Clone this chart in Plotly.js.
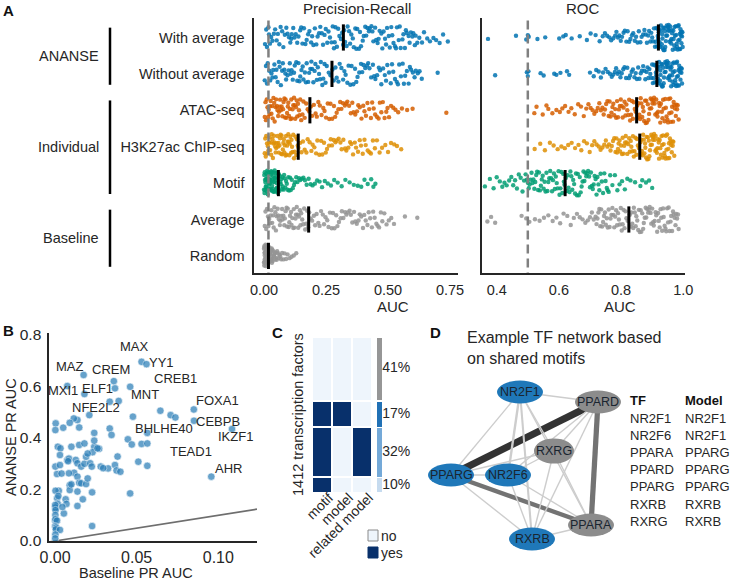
<!DOCTYPE html>
<html><head><meta charset="utf-8">
<script src="https://cdn.plot.ly/plotly-3.0.1.min.js"></script>
<style>html,body{margin:0;padding:0;background:#fff}#chart{width:732px;height:580px}</style>
</head><body><div id="chart"></div>
<script>
// ---------------- DATA ----------------
const categories = ['With average','Without average','ATAC-seq','H3K27ac ChIP-seq','Motif','Average','Random'];
const groups = ['ANANSE','ANANSE','Individual','Individual','Individual','Baseline','Baseline'];
const prMedians  = [0.32, 0.274, 0.185, 0.138, 0.058, 0.18, 0.018];
const rocMedians = [0.92, 0.915, 0.85, 0.86, 0.62, 0.825, null];
const prChance = 0.018, rocChance = 0.5;

// AUC values per TF, in thousandths
const prWithAvg = [4,9,12,18,20,24,29,34,40,45,51,56,62,67,73,78,84,90,95,101,106,110,112,118,123,128,134,139,146,150,155,161,167,172,178,183,190,194,199,205,211,216,222,227,233,238,244,249,255,260,266,272,277,282,285,288,294,299,304,310,315,319,
323,327,333,337,343,347,352,358,362,368,372,376,383,387,391,398,402,408,412,417,423,426,433,437,441,448,452,458,462,466,473,477,482,488,492,496,503,507,513,517,522,528,532,536,543,547,551,558,562,568,572,576,583,587,592,598,602,608,611,618,626,637,645,658,669,683,694,708,722,741];
const prWithoutAvg = [3,8,12,15,21,25,30,34,37,42,47,50,55,60,63,68,73,76,82,86,89,95,99,104,108,111,116,121,124,130,134,139,143,146,151,156,159,165,169,172,178,182,187,191,194,199,204,207,213,217,222,226,229,235,239,244,248,253,261,268,
276,281,288,293,300,305,312,319,324,329,336,341,348,353,360,367,372,377,384,391,396,401,408,415,420,425,432,439,444,449,456,463,468,473,480,487,492,497,504,511,516,521,528,535,540,545,552,559,564,569,576,583,588,593,600,607,612,620,627,636,700];
const prATAC = [3,6,8,11,14,17,19,22,24,27,30,33,35,38,41,43,46,49,52,54,57,60,63,65,68,71,74,77,79,82,85,87,90,93,96,98,101,104,107,110,112,115,118,121,124,126,129,132,134,137,141,143,146,150,155,159,164,170,176,182,
189,194,201,208,213,219,225,232,239,244,250,257,263,268,275,282,287,293,300,307,312,318,326,331,336,343,350,356,361,368,375,380,386,393,400,405,411,417,424,431,436,442,448,455,462,467,473,479,486,493,498,504,512,521,530,541,556,577,599,735];
const prH3K = [3,5,7,9,12,14,16,18,20,23,25,27,29,31,34,36,38,40,42,45,47,49,51,54,56,58,60,62,65,67,69,71,73,76,78,80,82,84,87,89,91,93,95,98,100,102,104,106,109,111,113,115,118,121,124,127,130,133,136,139,
145,151,157,164,171,176,184,191,196,203,210,215,223,230,235,242,249,254,262,269,274,281,288,293,301,308,313,320,327,332,340,347,352,359,366,371,379,386,391,398,405,410,418,425,431,439,447,455,466,476,489,500,512,525,536,553];
const prMotif = [0,1,2,3,4,5,6,7,8,9,10,11,12,13,14,15,16,17,18,19,20,21,22,23,24,25,26,27,28,29,30,31,32,33,34,35,36,37,38,39,40,41,42,43,44,45,46,47,48,50,51,52,54,55,57,
60,62,64,66,68,70,72,74,76,79,81,83,86,89,92,95,98,101,105,108,112,116,121,125,130,135,141,146,152,159,165,172,180,188,196,205,214,224,234,245,257,270,283,297,313,328,345,362,378,392,405,418,432,441,449];
const prAverage = [3,6,9,12,16,18,21,25,27,30,33,37,39,42,46,48,51,55,57,60,64,66,69,73,75,78,82,84,87,91,93,96,100,102,105,109,111,114,118,120,123,127,129,132,136,138,141,145,147,150,154,158,162,166,170,174,178,182,
188,194,201,206,212,219,224,230,237,242,248,255,260,266,273,278,284,291,296,302,309,314,320,327,332,338,345,350,356,363,368,374,381,386,392,399,404,410,417,422,428,435,440,446,453,458,464,471,477,485,494,503,513,524,568,618];
const prRandom = [0,0,1,1,2,2,3,3,4,4,5,5,6,6,7,7,8,8,9,9,10,10,11,11,12,12,13,13,14,14,15,15,16,16,17,17,17,18,18,18,
19,20,21,22,23,24,25,26,27,28,29,30,31,32,33,34,35,37,39,41,43,45,47,49,51,53,56,59,62,65,69,73,78,83,89,95,103,111,120,130];

const rocWithAvg = [372,462,495,500,503,531,556,601,614,622,641,667,690,702,718,731,741,748,755,762,768,775,
781,785,790,794,799,803,808,812,817,821,826,830,835,839,844,848,853,857,862,866,871,875,879,883,887,890,894,897,900,903,906,909,911,913,915,917,918,919,
921,923,924,926,928,929,931,932,934,936,937,939,940,942,944,945,947,948,950,952,953,955,956,958,960,961,963,964,966,968,969,971,972,974,976,977,979,980,982,984,985,987,988,990,992,993,994,995,996,997,922,933,941,951,962,973,983,989,991,998];
const rocWithoutAvg = [395,497,500,502,541,551,585,592,605,626,633,700,712,720,728,735,742,750,757,764,
770,775,780,784,789,793,798,802,807,811,816,820,825,829,834,838,843,847,851,855,859,863,867,871,875,878,882,885,888,891,894,897,900,902,904,906,908,910,912,913,
916,918,919,921,922,924,926,927,929,930,932,934,935,937,938,940,942,943,945,946,948,950,951,953,954,956,958,959,961,962,964,966,967,969,970,972,974,975,977,978,980,982,983,985,986,988,990,991,993,994,996,917,925,933,947,957,965,979,987,995];
const rocATAC = [521,528,548,560,566,579,592,603,611,620,631,640,651,662,671,680,688,695,702,708,714,720,725,730,735,740,744,748,752,756,
760,763,766,769,772,775,778,781,784,787,790,793,796,799,802,805,808,811,814,817,820,823,826,829,832,835,838,841,844,847,
852,854,856,859,861,863,865,868,870,872,874,877,879,881,883,886,888,890,892,895,897,899,901,904,906,908,910,913,915,917,919,922,924,926,928,931,933,935,937,940,942,944,946,949,951,953,955,958,960,962,964,967,969,971,973,976,978,980,982,985];
const rocH3K = [522,540,555,571,583,596,608,619,630,641,652,663,672,681,690,699,707,714,721,728,734,740,746,751,756,761,766,770,774,778,
782,785,787,790,792,795,797,800,803,805,808,810,813,815,818,820,823,826,828,831,833,836,838,841,843,846,849,851,854,857,
862,864,865,867,869,871,873,875,877,878,880,882,884,886,888,889,891,893,895,897,899,900,902,904,906,908,910,911,913,915,917,919,921,922,924,926,928,930,932,933,935,937,939,941,943,944,946,948,950,952,954,955,957,959,961,963,965,966,968,971];
const rocMotif = [362,378,390,400,410,418,425,432,440,447,453,459,465,471,477,483,488,493,497,500,
503,506,509,512,515,518,521,524,527,530,533,536,539,542,545,548,551,554,557,560,563,566,569,572,575,578,581,584,587,590,593,596,599,602,605,608,611,614,616,618,
622,625,628,631,634,637,640,643,646,649,652,655,658,661,664,667,670,673,676,679,682,685,688,691,694,697,700,703,706,709,712,715,718,721,724,727,730,734,738,742,746,750,754,757,760,
765,772,780,788,795,803,812,820,830,845,862,868,880,890,900];
const rocAverage = [370,382,395,480,495,505,523,538,552,566,580,592,604,615,627,638,648,658,667,676,685,693,700,706,712,
718,721,724,727,730,733,736,739,742,745,748,751,754,757,760,763,766,769,772,775,778,781,784,787,790,793,796,799,802,805,808,811,814,817,821,
828,831,833,836,839,841,844,847,849,852,855,857,860,863,865,868,871,873,876,879,881,884,887,889,892,895,897,900,903,905,908,911,913,916,919,921,924,927,929,932,935,937,940,943,945,948,951,953,956,959,961,964,967,969,972,975,977,980,983,985];
const rocRandom = [];

// Panel B: baseline vs ANANSE PR AUC per TF
const baselinePR = [0.053,0.056,0.0175,0.036,0.0367,0.018,0.0075,0.046,0.0335,0.039,
0.021,0.0137,0.0115,0.009,0.0148,0.0004,0.0002,0.085,0.0645,0.0708,
0.0737,0.0851,0.1084,0.0477,0.0565,0.0957,0.0335,0.0346,0.024,0.0446,
0.047,0.053,0.0565,0.0017,0.0033,0.010,0.0148,0.018,0.024,0.024,
0.0002,0.003,0.003,0.0075,0.0085,0.0127,0.0137,0.0117,0.0085,0.0012,
0.004,0.016,0.018,0.019,0.0215,0.0225,0.028,0.0325,0.0367,0.0377,
0.0383,0.040,0.051,0.0565,0.0137,0.0148,0.016,0.019,0.020,0.009,
0.0137,0.009,0.0023,0.0003,0.0227,0.017,0.0137,0.0065,0.007,0.0013,
0.0017,0.0004,0.0002,0.0001,0.0003,0.0054,0.0002,0.0001,0.0003,0.0012,
0.0001,0.0006,0.0005,0.003,0.0002,0.0001,0.0227,0.046,0.023,0.027,
0.020,0.008,0.0045,0.002,0.010,0.005,0.026,0.0295];
const anansePR = [0.696,0.687,0.645,0.621,0.593,0.571,0.602,0.599,0.541,0.544,
0.489,0.470,0.476,0.459,0.441,0.457,0.431,0.511,0.506,0.489,
0.480,0.467,0.435,0.483,0.420,0.250,0.437,0.412,0.420,0.395,
0.375,0.377,0.379,0.366,0.360,0.366,0.373,0.379,0.366,0.390,
0.289,0.334,0.295,0.315,0.320,0.315,0.302,0.265,0.263,0.260,
0.262,0.289,0.300,0.327,0.302,0.289,0.289,0.282,0.295,0.274,
0.328,0.269,0.308,0.292,0.250,0.226,0.224,0.221,0.243,0.217,
0.192,0.198,0.195,0.195,0.189,0.162,0.136,0.162,0.144,0.166,
0.144,0.128,0.130,0.140,0.120,0.107,0.101,0.080,0.085,0.079,
0.057,0.052,0.045,0.043,0.025,0.010,0.058,0.185,0.345,0.358,
0.340,0.310,0.132,0.175,0.220,0.440,0.360,0.283];
const labelNames = ['MAX','YY1','MAZ','CREM','CREB1','MXI1','ELF1','MNT','FOXA1','NFE2L2','CEBPB','BHLHE40','IKZF1','TEAD1','AHR'];
const labelX = [0.0484,0.0651,0.009,0.0341,0.0739,0.0049,0.0263,0.0549,0.0994,0.0249,0.1,0.067,0.1104,0.0835,0.1064];
const labelY = [0.755,0.694,0.677,0.667,0.632,0.584,0.593,0.571,0.545,0.518,0.465,0.436,0.405,0.347,0.282];

// Panel C
const nTF = 1412;
const cFeatures = ['motif','model','related model'];
const cPercents = [41,17,32,10];               // top to bottom
const cPatterns = [[0,0,0],[1,1,0],[1,0,1],[1,0,0]];

// Panel D
const nodeNames = ['NR2F1','PPARD','RXRG','PPARG','NR2F6','PPARA','RXRB'];
const nodeGroup = ['model','other','other','model','model','other','model'];
const nodeLayoutX = [4.75,8.65,6.45,1.3,4.15,8.3,5.35];
const nodeLayoutY = [8.4,7.9,5.45,4.25,4.25,1.75,1.05];
const edgeFrom = ['PPARG','PPARD','PPARG','NR2F1','NR2F1','NR2F1','NR2F1','NR2F1','NR2F1','PPARD','PPARD','PPARD','RXRG','RXRG','RXRG','RXRG','PPARG','PPARG','NR2F6','NR2F6','RXRB'];
const edgeTo   = ['PPARD','PPARA','PPARA','NR2F6','RXRB','PPARD','PPARG','RXRG','PPARA','RXRG','RXRB','NR2F6','PPARG','NR2F6','RXRB','PPARA','RXRB','NR2F6','RXRB','PPARA','PPARA'];
const edgeWeight = [1.0,0.75,0.62,0.34,0.3,0.15,0.15,0.15,0.15,0.15,0.15,0.15,0.15,0.15,0.15,0.15,0.15,0.15,0.2,0.15,0.15];
const tableTF    = ['NR2F1','NR2F6','PPARA','PPARD','PPARG','RXRB','RXRG'];
const tableModel = ['NR2F1','NR2F1','PPARG','PPARG','PPARG','RXRB','RXRB'];

// ---------------- STYLE / LAYOUT ----------------
const FONT = 'Liberation Sans, Arial, Helvetica, sans-serif';
const TXT = '#262626';
const catColors = ['#0173b2','#0173b2','#d55e00','#de8f05','#029e73','#949494','#949494'];
const W = 732, H = 580;
const px = x => x / W, py = y => 1 - y / H;

const prSeries  = [prWithAvg, prWithoutAvg, prATAC, prH3K, prMotif, prAverage, prRandom];
const rocSeries = [rocWithAvg, rocWithoutAvg, rocATAC, rocH3K, rocMotif, rocAverage, rocRandom];
const rowRange = [6.47, -0.535];

const traces = [];
traces.push({type:'scatter', mode:'lines', x:[prChance,prChance], y:[rowRange[0]+1, rowRange[1]-1], xaxis:'x', yaxis:'y',
  line:{color:'#808080', width:2.5, dash:'9px,5px'}, hoverinfo:'skip'});
traces.push({type:'scatter', mode:'lines', x:[rocChance,rocChance], y:[rowRange[0]+1, rowRange[1]-1], xaxis:'x2', yaxis:'y2',
  line:{color:'#808080', width:2.5, dash:'9px,5px'}, hoverinfo:'skip'});

function strip(vals, i, xa, ya) {
  return {type:'box', orientation:'h', x: vals.map(v => v / 1000), y0: i, xaxis: xa, yaxis: ya,
    boxpoints:'all', jitter:1, pointpos:0, width:0.7,
    fillcolor:'rgba(0,0,0,0)', line:{width:0, color:'rgba(0,0,0,0)'}, whiskerwidth:0,
    marker:{color:catColors[i], size:4.4, opacity:0.85, line:{width:0}}, hoverinfo:'skip'};
}
prSeries.forEach((s,i) => { if (s.length) traces.push(strip(s, i, 'x', 'y')); });
rocSeries.forEach((s,i) => { if (s.length) traces.push(strip(s, i, 'x2', 'y2')); });

function medians(meds, xa, ya) {
  const x = [], y = [];
  meds.forEach((m,i) => { if (m == null) return; x.push(m, m, null); y.push(i - 0.36, i + 0.36, null); });
  return {type:'scatter', mode:'lines', x, y, xaxis:xa, yaxis:ya, line:{color:'#000', width:3}, hoverinfo:'skip'};
}
traces.push(medians(prMedians, 'x', 'y'));
traces.push(medians(rocMedians, 'x2', 'y2'));

// Panel B
const bRange = [-0.0037, 0.1237];
traces.push({type:'scatter', mode:'lines', x:bRange, y:bRange, xaxis:'x3', yaxis:'y3',
  line:{color:'#6e6e6e', width:1.6}, hoverinfo:'skip'});
traces.push({type:'scatter', mode:'markers', x:baselinePR, y:anansePR, xaxis:'x3', yaxis:'y3',
  marker:{color:'#2c7fb8', opacity:0.72, size:7.5, line:{color:'#ffffff', width:0.6}}, hoverinfo:'skip'});

// Panel C heatmap
const edges = [0];
cPercents.slice().reverse().forEach(p => edges.push(edges[edges.length-1] + p));
traces.push({type:'heatmap', x:cFeatures, y:edges, z:cPatterns.slice().reverse(), xaxis:'x4', yaxis:'y4',
  colorscale:[[0,'#eef5fc'],[1,'#08306b']], zmin:0, zmax:1, showscale:false, xgap:2, ygap:2, hoverinfo:'skip'});
const cRowColors = ['#969696','#2171b5','#74a9d8','#c6dbef'];
const mids = [];
cPercents.slice().reverse().forEach((p,k) => {
  const idx = cPercents.length - 1 - k;
  traces.push({type:'bar', x:[1.1], y:[p], width:1.05, xaxis:'x5', yaxis:'y5',
    marker:{color:cRowColors[idx], line:{color:'#fff', width:1.5}}, hoverinfo:'skip'});
  mids.push(edges[k] + p/2);
});
traces.push({type:'scatter', mode:'text', x:mids.map(()=>1.5), y:mids, xaxis:'x5', yaxis:'y5',
  text:cPercents.slice().reverse().map(p => p + '%'), textposition:'middle right',
  textfont:{size:14, color:TXT, family:FONT}, hoverinfo:'skip', cliponaxis:false});

// Panel D edges
const nIdx = n => nodeNames.indexOf(n);
edgeFrom.forEach((f,k) => {
  const a = nIdx(f), b = nIdx(edgeTo[k]), w = edgeWeight[k];
  const color = w >= 0.9 ? '#333333' : (w >= 0.5 ? '#737373' : '#cdcdcd');
  traces.push({type:'scatter', mode:'lines', x:[nodeLayoutX[a], nodeLayoutX[b]], y:[nodeLayoutY[a], nodeLayoutY[b]],
    xaxis:'x6', yaxis:'y6', line:{color, width:Math.max(1.4, w*7)}, hoverinfo:'skip'});
});

const axBase = {showgrid:false, zeroline:false, showline:true, linecolor:'#262626', linewidth:1.6,
  ticks:'outside', tickcolor:'rgba(0,0,0,0)', tickfont:{size:14.5, color:TXT, family:FONT}, fixedrange:true};
const hidden = {visible:false, fixedrange:true};

const layout = {
  width:W, height:H, margin:{l:0,r:0,t:0,b:0}, paper_bgcolor:'#fff', plot_bgcolor:'rgba(0,0,0,0)',
  showlegend:false, hovermode:false, barmode:'stack', boxmode:'overlay', font:{family:FONT, color:TXT},
  xaxis: Object.assign({}, axBase, {domain:[px(254), px(458)], range:[-0.0403, 0.782], anchor:'y',
    tickvals:[0,0.25,0.5,0.75], ticktext:['0.00','0.25','0.50','0.75'], ticklen:3}),
  yaxis: Object.assign({}, axBase, {domain:[py(273), py(18)], range:rowRange, anchor:'x', type:'linear',
    tickvals:categories.map((c,i)=>i), ticktext:categories, ticklen:5}),
  xaxis2: Object.assign({}, axBase, {domain:[px(482), px(685)], range:[0.3527, 1.0055], anchor:'y2',
    tickvals:[0.4,0.6,0.8,1.0], ticktext:['0.4','0.6','0.8','1.0'], ticklen:3}),
  yaxis2: Object.assign({}, axBase, {domain:[py(273), py(18)], range:rowRange, anchor:'x2', type:'linear', showticklabels:false}),
  xaxis3: Object.assign({}, axBase, {domain:[px(49), px(257)], range:bRange, anchor:'y3',
    tickvals:[0,0.05,0.1], ticktext:['0.00','0.05','0.10'], ticklen:1, tickfont:{size:16, color:TXT, family:FONT}}),
  yaxis3: Object.assign({}, axBase, {domain:[py(541), py(333)], range:[0, 0.808], anchor:'x3',
    tickvals:[0,0.2,0.4,0.6,0.8], ticktext:['0.0','0.2','0.4','0.6','0.8'], ticklen:3, tickfont:{size:15.5, color:TXT, family:FONT}}),
  xaxis4: {domain:[px(312), px(372)], anchor:'y4', type:'category', showgrid:false, zeroline:false, showline:false,
    tickangle:-45, ticks:'outside', ticklen:3, tickcolor:'rgba(0,0,0,0)', ticklabelstandoff:-13, ticklabelshift:7,
    tickfont:{size:14, color:TXT, family:FONT}, fixedrange:true},
  yaxis4: Object.assign({}, hidden, {domain:[py(493), py(337)], range:[0,100], anchor:'x4'}),
  xaxis5: Object.assign({}, hidden, {domain:[px(372), px(440)], range:[0,10], anchor:'y5'}),
  yaxis5: Object.assign({}, hidden, {domain:[py(493), py(337)], range:[0,100], anchor:'x5'}),
  xaxis6: Object.assign({}, hidden, {domain:[px(425), px(625)], range:[0,10], anchor:'y6'}),
  yaxis6: Object.assign({}, hidden, {domain:[py(560), py(360)], range:[0,10], anchor:'x6'}),
  shapes:[], annotations:[]
};

const ann = (o) => layout.annotations.push(Object.assign({showarrow:false, xanchor:'center', yanchor:'middle',
  font:{family:FONT, size:14.5, color:TXT}}, o));

// Panel letters
[['A',8,10],['B',8,330],['C',277,332],['D',435,332]].forEach(([t,x,y]) =>
  ann({text:'<b>'+t+'</b>', x:px(x), y:py(y), xref:'paper', yref:'paper', font:{family:FONT, size:15, color:'#111'}}));

// Panel A titles
ann({text:'Precision-Recall', x:px(356.5), y:py(9), xref:'paper', yref:'paper', font:{family:FONT, size:15, color:TXT}});
ann({text:'ROC', x:px(583), y:py(9), xref:'paper', yref:'paper', font:{family:FONT, size:15, color:TXT}});
ann({text:'AUC', x:px(393), y:py(306), xref:'paper', yref:'paper', font:{family:FONT, size:15, color:TXT}});
ann({text:'AUC', x:px(620), y:py(306), xref:'paper', yref:'paper', font:{family:FONT, size:15, color:TXT}});

// group labels and bars
const uniqueGroups = [...new Set(groups)];
uniqueGroups.forEach(g => {
  const rows = groups.map((gg,i)=>gg===g?i:-1).filter(i=>i>=0);
  const first = rows[0], last = rows[rows.length-1];
  ann({text:g, x:px(101), xanchor:'right', xref:'paper', y:(first+last)/2, yref:'y'});
  layout.shapes.push({type:'line', xref:'paper', yref:'y', x0:px(110), x1:px(110), y0:first-0.27, y1:last+0.3,
    line:{color:'#000', width:2.5}});
});

// Panel B titles & labels
ann({text:'ANANSE PR AUC', x:px(11), y:py(437), xref:'paper', yref:'paper', textangle:-90});
ann({text:'Baseline PR AUC', x:px(136), y:py(573), xref:'paper', yref:'paper'});
labelNames.forEach((n,k) => ann({text:n, x:labelX[k], y:labelY[k], xref:'x3', yref:'y3', font:{family:FONT, size:13, color:TXT}}));

// Panel C extras
ann({text:nTF + ' transcription factors', x:px(298), y:py(415), xref:'paper', yref:'paper', textangle:-90});
layout.shapes.push({type:'rect', xref:'paper', yref:'paper', x0:px(368), x1:px(378), y0:py(541), y1:py(530),
  fillcolor:'#eef5fc', line:{color:'#8a8a8a', width:1}});
layout.shapes.push({type:'rect', xref:'paper', yref:'paper', x0:px(368), x1:px(378), y0:py(558), y1:py(547),
  fillcolor:'#08306b', line:{color:'#08306b', width:1}});
ann({text:'no', x:px(379), xanchor:'left', y:py(535.5), xref:'paper', yref:'paper', font:{family:FONT, size:14, color:TXT}});
ann({text:'yes', x:px(379), xanchor:'left', y:py(552.5), xref:'paper', yref:'paper', font:{family:FONT, size:14, color:TXT}});

// Panel D nodes, title, table
nodeNames.forEach((n,k) => {
  const rx = n === 'RXRG' ? 1.0 : 1.15, ry = n === 'RXRG' ? 0.63 : 0.57;
  layout.shapes.push({type:'circle', xref:'x6', yref:'y6', x0:nodeLayoutX[k]-rx, x1:nodeLayoutX[k]+rx,
    y0:nodeLayoutY[k]-ry, y1:nodeLayoutY[k]+ry, fillcolor: nodeGroup[k]==='model' ? '#1f78b9' : '#8c8c8c', line:{width:0}});
  ann({text:n, x:nodeLayoutX[k], y:nodeLayoutY[k], xref:'x6', yref:'y6', font:{family:FONT, size:12.5, color:'#1a2530'}});
});
ann({text:'Example TF network based<br>on shared motifs', x:px(465), xanchor:'left', align:'left',
  y:py(347.5), xref:'paper', yref:'paper', font:{family:FONT, size:16, color:TXT}});
ann({text:'<b>TF</b>', x:px(628), xanchor:'left', y:py(400), xref:'paper', yref:'paper', font:{family:FONT, size:13, color:'#111'}});
ann({text:'<b>Model</b>', x:px(683), xanchor:'left', y:py(400), xref:'paper', yref:'paper', font:{family:FONT, size:13, color:'#111'}});
tableTF.forEach((t,k) => {
  const yy = 418 + k*17.2;
  ann({text:t, x:px(628), xanchor:'left', y:py(yy), xref:'paper', yref:'paper', font:{family:FONT, size:13, color:TXT}});
  ann({text:tableModel[k], x:px(683), xanchor:'left', y:py(yy), xref:'paper', yref:'paper', font:{family:FONT, size:13, color:TXT}});
});

Plotly.newPlot('chart', traces, layout, {staticPlot:true, displayModeBar:false});
</script></body></html>
